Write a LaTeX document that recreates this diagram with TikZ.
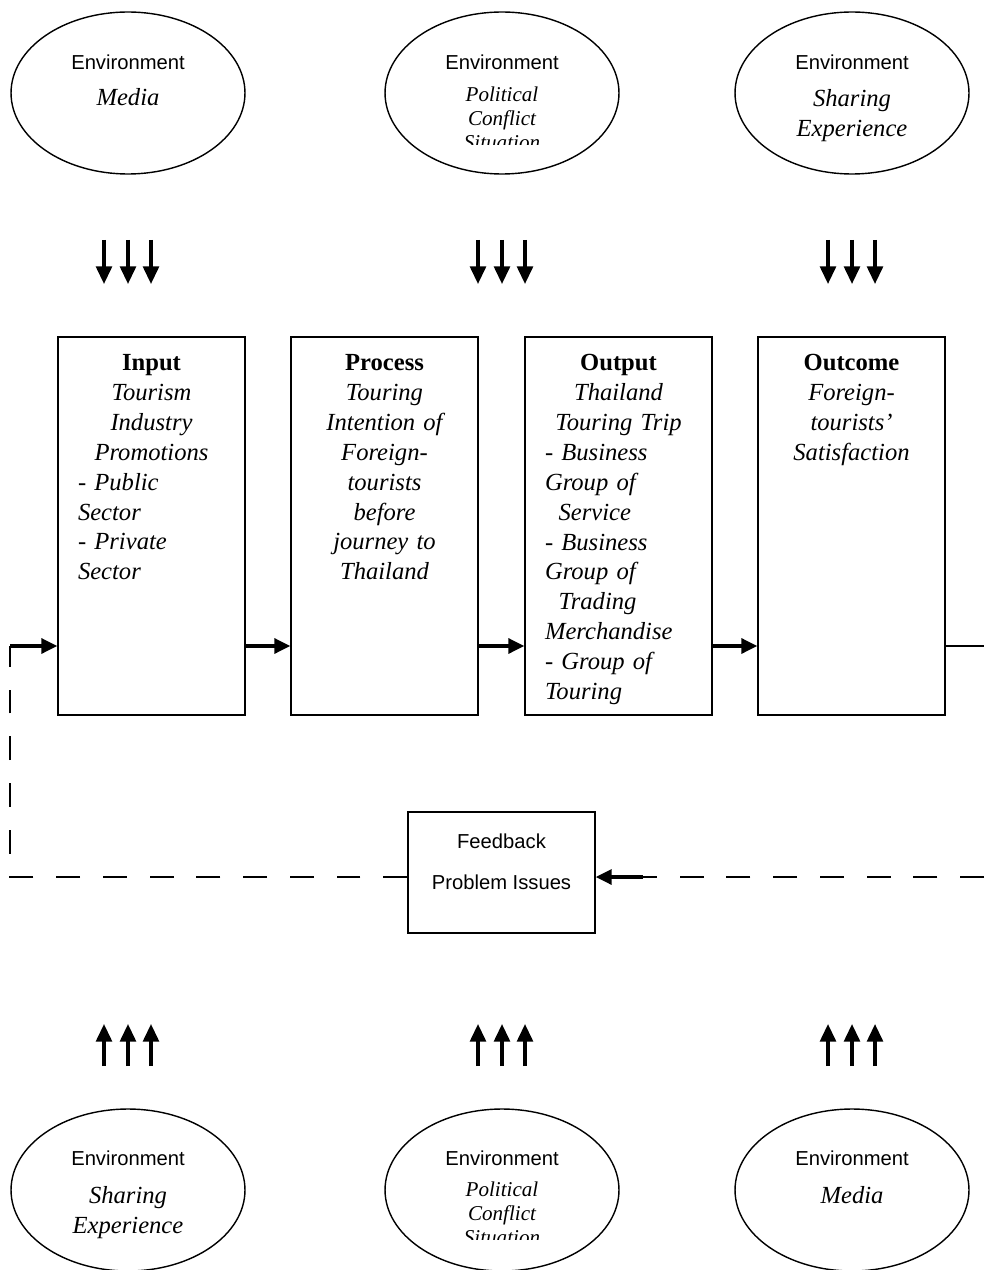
\documentclass[tikz,border=0pt]{standalone}
\usepackage{fontspec}
\setmainfont{Liberation Serif}
\setsansfont{Liberation Sans}
\usetikzlibrary{arrows.meta}
\usetikzlibrary{positioning}
\usetikzlibrary{shapes.geometric}
\newcommand*\stagehead[1]{\makebox[\hsize]{\upshape\bfseries #1}}
\newcommand*\stageline[1]{\makebox[\hsize]{#1}}
\tikzset{
    env/.style = {draw,line width=0.8pt,ellipse,minimum width=4.68cm,minimum height=3.24cm,inner sep=0},
    envhead/.style = {font=\fontsize{11.5}{14}\selectfont\sffamily},
    envtext/.style = {font=\fontsize{14}{17}\selectfont\itshape,align=center,inner sep=0},
    envsmall/.style = {font=\fontsize{12}{13.6}\selectfont\itshape,align=center,inner sep=0},
    stage/.style = {draw,line width=0.9pt,minimum width=3.74cm,minimum height=7.56cm,inner sep=0},
    stagetext/.style = {anchor=north,text width=2.94cm,align=left,inner sep=0,
        font=\fontsize{14}{17}\selectfont\itshape},
    fbbox/.style = {draw,line width=0.9pt,minimum width=3.74cm,minimum height=2.42cm,inner sep=0},
    fbtext/.style = {font=\fontsize{11.5}{14}\selectfont\sffamily,inner sep=0}
}
\tikzset{
    flow/.style = {line width=1.8pt,-{Triangle[length=9pt,width=8.5pt]}},
    influence/.style = {line width=1.8pt,-{Triangle[length=10pt,width=9pt]}},
    loop/.style = {line width=0.8pt,dash pattern=on 13.6pt off 13pt}
}
\begin{document}
\begin{tikzpicture}[x=0.02cm,y=-0.02cm]
    \useasboundingbox (0,0) rectangle (984,1270);
    % Environments, top row
    \path (128,93) node[env] (envTA) {}
        to +(374,0) node[env] (envTB) {}
        to +(724,0) node[env] (envTC) {}
    ;
    \path (envTA) +(0,-31) node[envhead] (envTAh) {Environment}
        +(0,4) node[envtext] (envTAt) {Media};
    \path (envTB) +(0,-31) node[envhead] (envTBh) {Environment};
    \begin{scope}
        \clip (385,40) rectangle (619,145);
        \path (envTB) +(0,25) node[envsmall] (envTBt) {Political\\Conflict\\Situation};
    \end{scope}
    \path (envTC) +(0,-31) node[envhead] (envTCh) {Environment}
        +(0,23) node[envtext] (envTCt) {Sharing\\Experience};
    % Environments, bottom row
    \path (128,1190) node[env] (envBA) {}
        to +(374,0) node[env] (envBB) {}
        to +(724,0) node[env] (envBC) {}
    ;
    \path (envBA) +(0,-32) node[envhead] (envBAh) {Environment}
        +(0,23) node[envtext] (envBAt) {Sharing\\Experience};
    \path (envBB) +(0,-32) node[envhead] (envBBh) {Environment};
    \begin{scope}
        \clip (385,1130) rectangle (619,1239);
        \path (envBB) +(0,23) node[envsmall] (envBBt) {Political\\Conflict\\Situation};
    \end{scope}
    \path (envBC) +(0,-32) node[envhead] (envBCh) {Environment}
        +(0,5) node[envtext] (envBCt) {Media};
    % Influences
    \foreach \cx in {128,502,852}
        \foreach \dx in {-24,0,23} {
            \draw[influence] (\cx+\dx,240) -- (\cx+\dx,284);
            \draw[influence] (\cx+\dx,1066) -- (\cx+\dx,1024);
        }
    % Stages
    \path (151.5,526) node[stage] (in) {}
        to +(233,0) node[stage] (pr) {}
        to +(467,0) node[stage] (out) {}
        to +(700,0) node[stage] (oc) {}
    ;
    \path (in.north) +(0,18) node[stagetext] (inT) {%
        \stagehead{Input}\\ \stageline{Tourism}\\ \stageline{Industry}\\
        \stageline{Promotions}\\ - Public\\ Sector\\ - Private\\ Sector};
    \path (pr.north) +(0,18) node[stagetext] (prT) {%
        \stagehead{Process}\\ \stageline{Touring}\\ \stageline{Intention of}\\
        \stageline{Foreign-}\\ \stageline{tourists}\\ \stageline{before}\\
        \stageline{journey to}\\ \stageline{Thailand}};
    \path (out.north) +(0,18) node[stagetext] (outT) {%
        \stagehead{Output}\\ \stageline{Thailand}\\ \stageline{Touring Trip}\\
        - Business\\ Group of\\ \hspace*{0.55em}Service\\ - Business\\ Group of\\
        \hspace*{0.55em}Trading\\ Merchandise\\ - Group of\\ Touring};
    \path (oc.north) +(0,18) node[stagetext] (ocT) {%
        \stagehead{Outcome}\\ \stageline{Foreign-}\\ \stageline{tourists’}\\
        \stageline{Satisfaction}};
    % Feedback
    \node[fbbox] (fb) at (501.5,872.5) {};
    \path (fb) +(0,-31.5) node[fbtext] (fbh) {Feedback}
        +(0,9.5) node[fbtext] (fbt) {Problem Issues};
    % Flow
    \path (0,646) coordinate (fwd) (0,877) coordinate (back);
    \foreach \src/\dest in {in/pr,pr/out,out/oc}
        \draw[flow] (\src.east |- fwd) -- (\dest.west |- fwd);
    % Feedback loop
    \coordinate (loopL) at (10,646);
    \coordinate (loopR) at (984,646);
    \coordinate (loopRb) at (984,877);
    \coordinate (retn) at (643,877);
    \draw[line width=0.8pt] (oc.east |- fwd) -- (loopR);
    \draw[loop] (loopRb) -- (retn);
    \draw[flow] (retn) -- (fb.east |- back);
    \draw[loop] (fb.west |- back) -| (loopL);
    \draw[flow] (loopL) -- (in.west |- fwd);
\end{tikzpicture}
\end{document}
